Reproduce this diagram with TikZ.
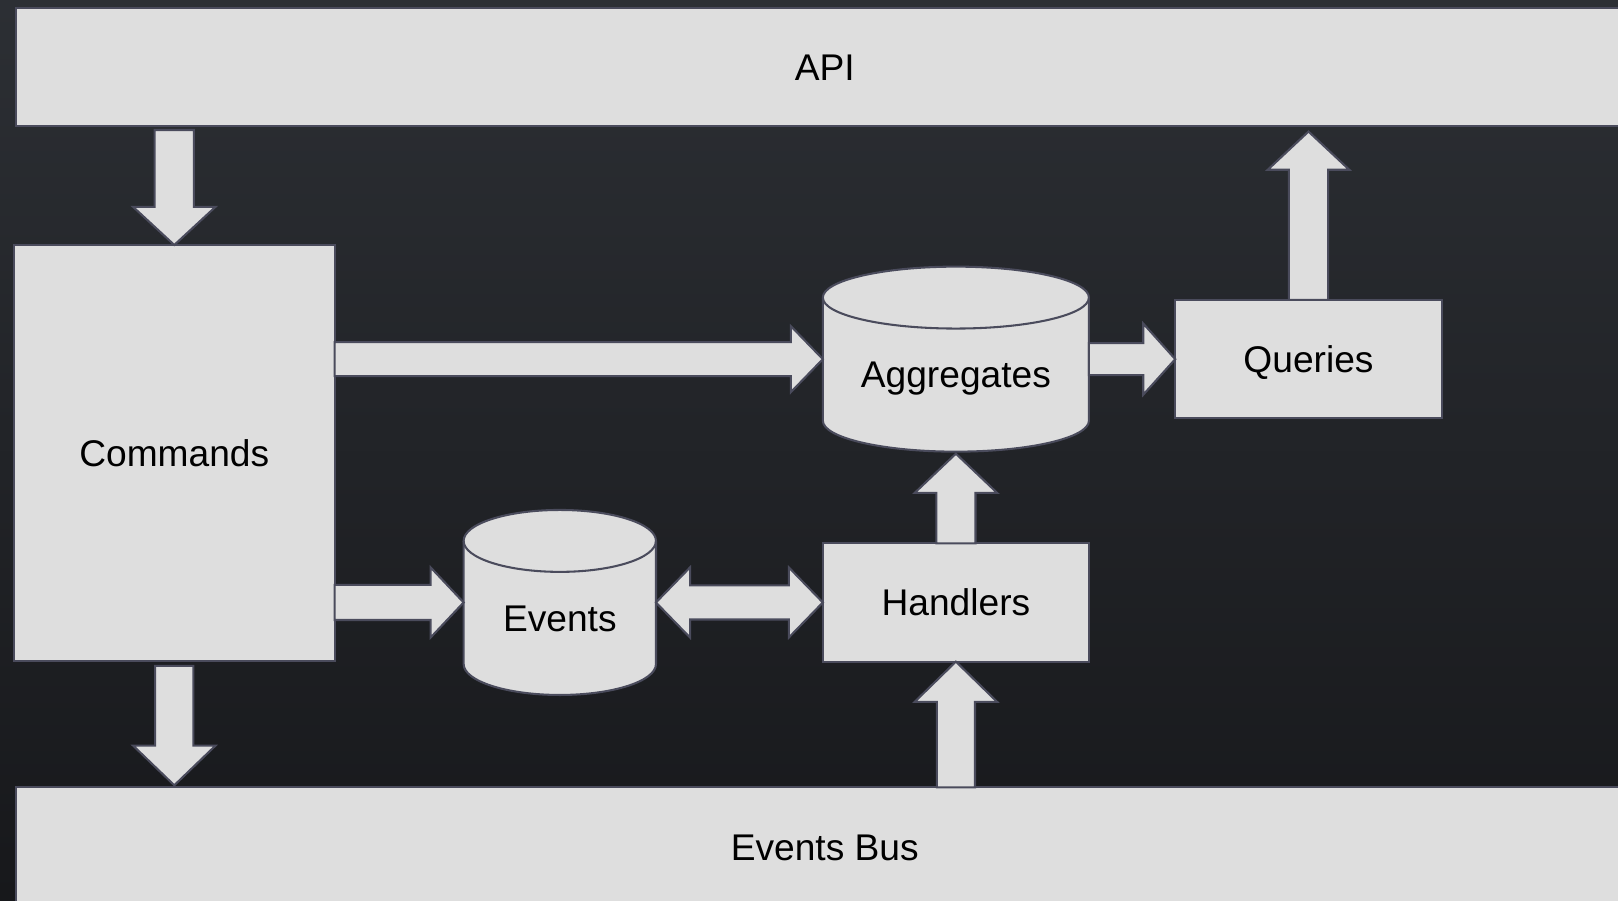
\documentclass[tikz,border=0pt]{standalone}
\usepackage{fontspec}
\setmainfont{Liberation Sans}
\usetikzlibrary{calc}

\definecolor{boxfill}{HTML}{DEDEDE}
\definecolor{edgeline}{HTML}{4A4B5C}
\definecolor{bgtop}{HTML}{2C2F34}
\definecolor{bgbottom}{HTML}{17181B}

\tikzset{
  panel/.style={draw=edgeline, fill=boxfill, line width=2pt, inner sep=0pt, outer sep=0pt,
    font=\fontsize{36}{43}\selectfont, text height=25.8pt, text depth=0pt},
  drum/.style={inner sep=0pt, outer sep=0pt},
  drumline/.style={draw=edgeline, fill=boxfill, line width=2pt},
  caption/.style={inner sep=0pt, font=\fontsize{36}{43}\selectfont, text height=25.8pt, text depth=0pt},
  flow/.style={draw=edgeline, fill=boxfill, line width=2pt, line join=miter},
}

% block arrow: from, to, shaft half-width, head half-width, head length
\newcommand\blockarrow[5]{%
  \draw[flow] let \p1=(#1), \p2=(#2),
      \n1={atan2(\y2-\y1,\x2-\x1)}, \n2={veclen(\x2-\x1,\y2-\y1)}, \n3={\n2-#5} in
    ($(\p1)+(\n1+90:#3)$) -- ($(\p1)+(\n1:\n3)+(\n1+90:#3)$)
    -- ($(\p1)+(\n1:\n3)+(\n1+90:#4)$) -- (\p2)
    -- ($(\p1)+(\n1:\n3)+(\n1-90:#4)$) -- ($(\p1)+(\n1:\n3)+(\n1-90:#3)$)
    -- ($(\p1)+(\n1-90:#3)$) -- cycle;}

% block arrow with a head at both ends
\newcommand\dualarrow[5]{%
  \draw[flow] let \p1=(#1), \p2=(#2),
      \n1={atan2(\y2-\y1,\x2-\x1)}, \n2={veclen(\x2-\x1,\y2-\y1)}, \n3={\n2-#5} in
    (\p1) -- ($(\p1)+(\n1:#5)+(\n1+90:#4)$) -- ($(\p1)+(\n1:#5)+(\n1+90:#3)$)
    -- ($(\p1)+(\n1:\n3)+(\n1+90:#3)$) -- ($(\p1)+(\n1:\n3)+(\n1+90:#4)$) -- (\p2)
    -- ($(\p1)+(\n1:\n3)+(\n1-90:#4)$) -- ($(\p1)+(\n1:\n3)+(\n1-90:#3)$)
    -- ($(\p1)+(\n1:#5)+(\n1-90:#3)$) -- ($(\p1)+(\n1:#5)+(\n1-90:#4)$) -- cycle;}

% database drum filling the box of a node: node, end-cap radius (pt)
\newcommand\drumshape[2]{%
  \filldraw[drumline] let \p1=(#1.north west), \p2=(#1.south east), \n1={(\x2-\x1)/2} in
    (\x1,\y1-#2pt) -- (\x1,\y2+#2pt) arc[start angle=180, end angle=360, x radius=\n1, y radius=#2pt]
    -- (\x2,\y1-#2pt) arc[start angle=0, end angle=180, x radius=\n1, y radius=#2pt] -- cycle;
  \draw[drumline, fill=none] let \p1=(#1.north west), \p2=(#1.south east), \n1={(\x2-\x1)/2} in
    (\x1,\y1-#2pt) arc[start angle=180, end angle=360, x radius=\n1, y radius=#2pt];}

\begin{document}
\begin{tikzpicture}[x=1pt, y=1pt]
  \useasboundingbox (0,0) rectangle (1568,873);
  \clip (0,0) rectangle (1568,873);
  \shade[top color=bgtop, bottom color=bgbottom] (0,0) rectangle (1568,873);

  % layers and components
  \node[panel, minimum width=1567.5, minimum height=114.5] (api) at (799.25,807.75) {API};
  \node[panel, minimum width=1567.5, minimum height=116] (bus) at (799.25,52) {Events Bus};
  \node[panel, minimum width=310.6, minimum height=402.9] (cmd) at (168.9,434.15) {Commands};
  \node[panel, minimum width=258.3, minimum height=114.7] (que) at (1268.05,524.95) {Queries};
  \node[panel, minimum width=257.9, minimum height=114.7] (hdl) at (926.35,289.15) {Handlers};

  % stores
  \node[drum, minimum width=257.9, minimum height=179.3] (agg) at (926.35,524.95) {};
  \node[drum, minimum width=186.4, minimum height=179.3] (evt) at (542.5,289.15) {};
  \drumshape{agg}{30}
  \drumshape{evt}{30}
  \node[caption] (aggtext) at ([yshift=-14.5]agg.center) {Aggregates};
  \node[caption] (evttext) at ([yshift=-15.6]evt.center) {Events};

  % flows
  \blockarrow{$(cmd.north |- api.south)+(0,-3.5)$}{cmd.north}{19}{40}{37}
  \blockarrow{$(cmd.south)+(0,-5)$}{$(cmd.south |- bus.north)+(0,2)$}{18.5}{40}{38.5}
  \blockarrow{cmd.east |- agg.west}{agg.west}{16.5}{32}{31}
  \blockarrow{agg.east}{que.west}{15.5}{34.5}{31}
  \blockarrow{cmd.east |- evt.west}{evt.west}{17}{34}{32}
  \dualarrow{evt.east}{hdl.west}{16.5}{34}{33}
  \blockarrow{hdl.north}{$(agg.south)+(0,-2)$}{19}{40}{38}
  \blockarrow{hdl.south |- bus.north}{hdl.south}{18.5}{40}{39}
  \blockarrow{que.north}{$(que.north |- api.south)+(0,-5)$}{19}{39.5}{37}
\end{tikzpicture}
\end{document}
